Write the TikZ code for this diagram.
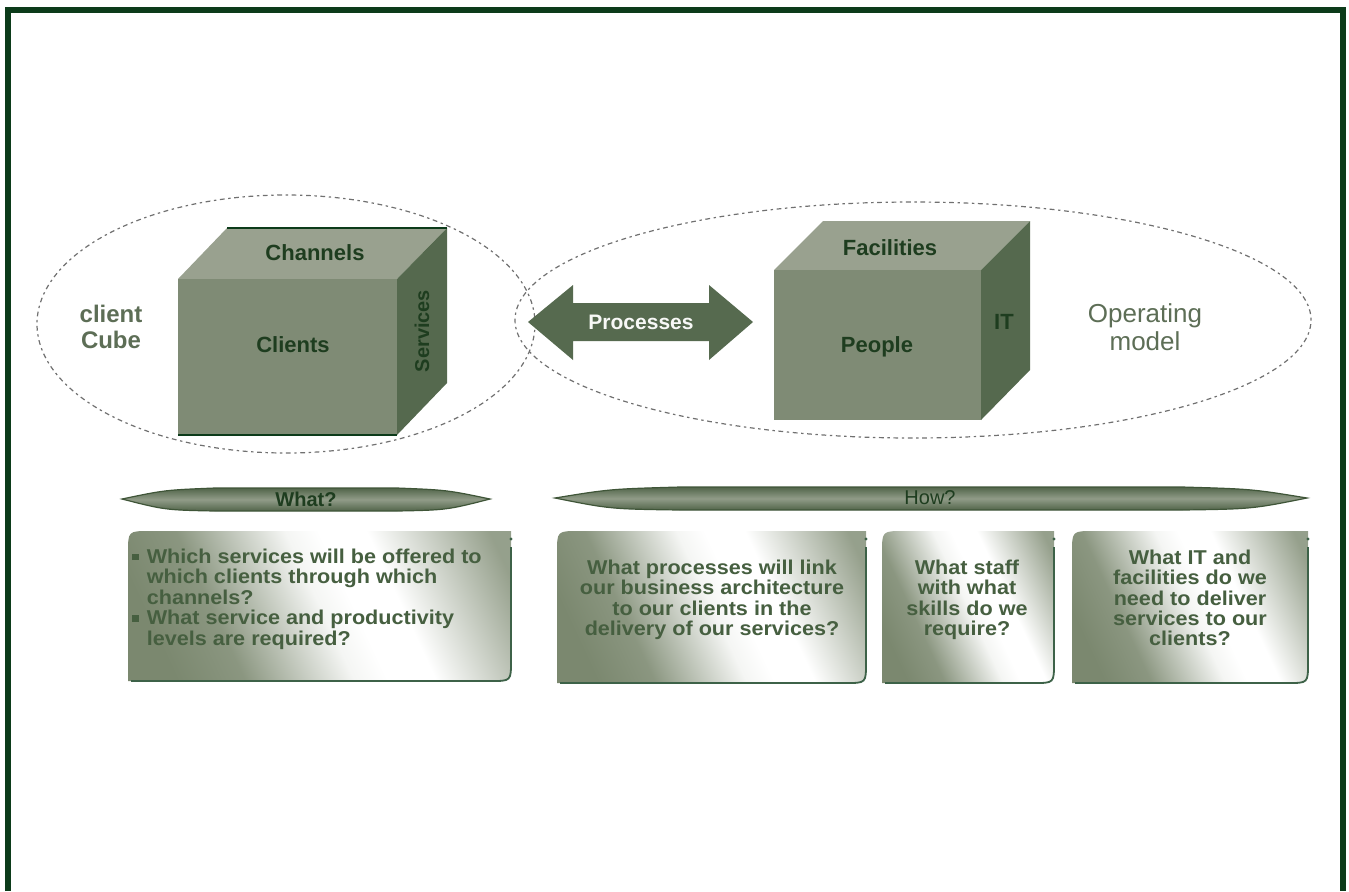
\documentclass[tikz,border=0pt]{standalone}
\usepackage{fontspec}
\setmainfont{Liberation Sans}
\newfontfamily\qfont[FakeStretch=1.08]{Liberation Sans}
\definecolor{framegreen}{HTML}{0C3B1A}
\definecolor{halogray}{HTML}{707070}
\definecolor{cubetop}{HTML}{99A18F}
\definecolor{cubefront}{HTML}{7F8B75}
\definecolor{cubeside}{HTML}{55694E}
\definecolor{cubetext}{HTML}{1E3D1F}
\definecolor{softgreen}{HTML}{5D6E56}
\definecolor{arrowgreen}{HTML}{566A4F}
\definecolor{bandline}{HTML}{3F5538}
\definecolor{bandmid}{HTML}{7D8A73}
\definecolor{boxdark}{HTML}{7B886F}
\definecolor{qgreen}{HTML}{465F40}
\newcommand{\bul}{\raisebox{0.3ex}{\rule{3.2pt}{3.2pt}}}
% dark left, white band right of centre, darker again at the right edge
\pgfdeclarehorizontalshading{panelshade}{100bp}{color(0bp)=(boxdark); color(24bp)=(boxdark);
  color(34bp)=(boxdark!88!white); color(50bp)=(white!92!boxdark); color(55bp)=(white); color(62bp)=(white);
  color(80bp)=(boxdark!80!white); color(100bp)=(boxdark!80!white)}

\begin{document}
\begin{tikzpicture}[x=0.5pt,y=-0.5pt,
  every node/.style={inner sep=0pt},
  halo/.style={draw=halogray,line width=0.6pt,dash pattern=on 1.2pt off 1.8pt on 2.4pt off 1.8pt},
  band/.style={draw=bandline,line width=0.6pt,top color=bandline!70!bandmid,bottom color=bandline!70!bandmid,middle color=bandmid!85!white},
  qbox/.style={shading=panelshade,shading angle=25},
  boxline/.style={draw=framegreen!80,line width=0.9pt},
  qtext/.style={text=qgreen,align=center,font=\qfont\bfseries\fontsize{10}{10.2}\selectfont},
  cubelabel/.style={text=cubetext,font=\bfseries\fontsize{11}{12}\selectfont}]
\useasboundingbox (0,0) rectangle (1349,891);
\draw[framegreen,line width=3pt] (8,891) -- (8,10) -- (1343,10) -- (1343,891);

% the two dotted rings
\draw[halo] (286,324) ellipse [x radius=124.5pt,y radius=64.5pt];
\draw[halo] (913,320) ellipse [x radius=199pt,y radius=59pt];

% client cube
\fill[cubetop] (178,279) -- (227,228) -- (447,228) -- (397,279) -- cycle;
\fill[cubefront] (178,279) rectangle (397,435);
\fill[cubeside] (397,279) -- (447,228) -- (447,383) -- (397,435) -- cycle;
\draw[framegreen,line width=0.9pt] (227,228) -- (447,228) (178,435) -- (397,435);
\node[cubelabel] (chan) at (315,253) {Channels};
\node[cubelabel] (cli) at (293,345) {Clients};
\node[cubelabel,rotate=90,font=\bfseries\fontsize{10}{12}\selectfont] (serv) at (422,331) {Services};
\node[text=softgreen,align=center,font=\bfseries\fontsize{12}{13}\selectfont] (cc) at (111,327) {client\\Cube};

% operating model cube
\fill[cubetop] (774,270) -- (823,221) -- (1030,221) -- (981,270) -- cycle;
\fill[cubefront] (774,270) rectangle (981,420);
\fill[cubeside] (981,270) -- (1030,221) -- (1030,370) -- (981,420) -- cycle;
\node[cubelabel] (fac) at (890,248) {Facilities};
\node[cubelabel] (ppl) at (877,347) {People};
\node[cubelabel] (it) at (1004,322) {IT};
\node[text=softgreen,align=center,font=\fontsize{13}{14}\selectfont] (om) at (1145,327) {Operating\\model};

% processes arrow
\fill[arrowgreen] (528,322) -- (573,285) -- (573,303) -- (709,303) -- (709,285) -- (753,322)
  -- (709,360) -- (709,341) -- (573,341) -- (573,360) -- cycle;
\node[text=white!92!cubetop,font=\bfseries\fontsize{10.5}{12}\selectfont] (proc) at (641,322) {Processes};

% what / how bands
\path[band] (122,499) .. controls (165,490) .. (215,488) -- (397,488) .. controls (447,490) .. (490,499)
  .. controls (447,510) .. (397,511) -- (215,511) .. controls (165,510) .. cycle;
\node[text=cubetext,font=\bfseries\fontsize{10}{12}\selectfont] (what) at (306,499) {What?};
\path[band] (555,498) .. controls (610,489) .. (680,487) -- (1182,487) .. controls (1252,489) .. (1307,498)
  .. controls (1252,509) .. (1182,510) -- (680,510) .. controls (610,509) .. cycle;
\node[text=cubetext,font=\fontsize{10}{12}\selectfont] (how) at (930,498) {How?};

% question panels
\foreach \xa/\ya/\xb/\yb in {128/531/511/681,557/531/866/683,882/531/1054/683,1072/531/1308/683}{
  \shade[qbox] (\xa,\yb) -- (\xa,\ya+22) .. controls (\xa,\ya) .. (\xa+22,\ya) -- (\xb,\ya)
    -- (\xb,\yb-20) .. controls (\xb,\yb) .. (\xb-20,\yb) -- cycle;
  \draw[boxline] (\xa+3,\yb) -- (\xb-20,\yb) .. controls (\xb,\yb) .. (\xb,\yb-20) -- (\xb,\ya+16);
  \fill[framegreen!80] (\xb,\ya+8) circle (0.8pt);
}
\node[qtext,align=left,anchor=west] (whatq) at (132,600) {%
  \renewcommand{\arraystretch}{0.98}%
  \begin{tabular}{@{}l@{\hspace{4pt}}l@{}}
  \bul & Which services will be offered to\\
       & which clients through which\\
       & channels?\\
  \bul & What service and productivity\\
       & levels are required?
  \end{tabular}};
\node[qtext] (procq) at (712,600) {What processes will link\\our business architecture\\to our clients in the\\delivery of our services?};
\node[qtext] (staffq) at (967,600) {What staff\\with what\\skills do we\\require?};
\node[qtext] (itq) at (1190,598) {What IT and\\facilities do we\\need to deliver\\services to our\\clients?};
\end{tikzpicture}
\end{document}
